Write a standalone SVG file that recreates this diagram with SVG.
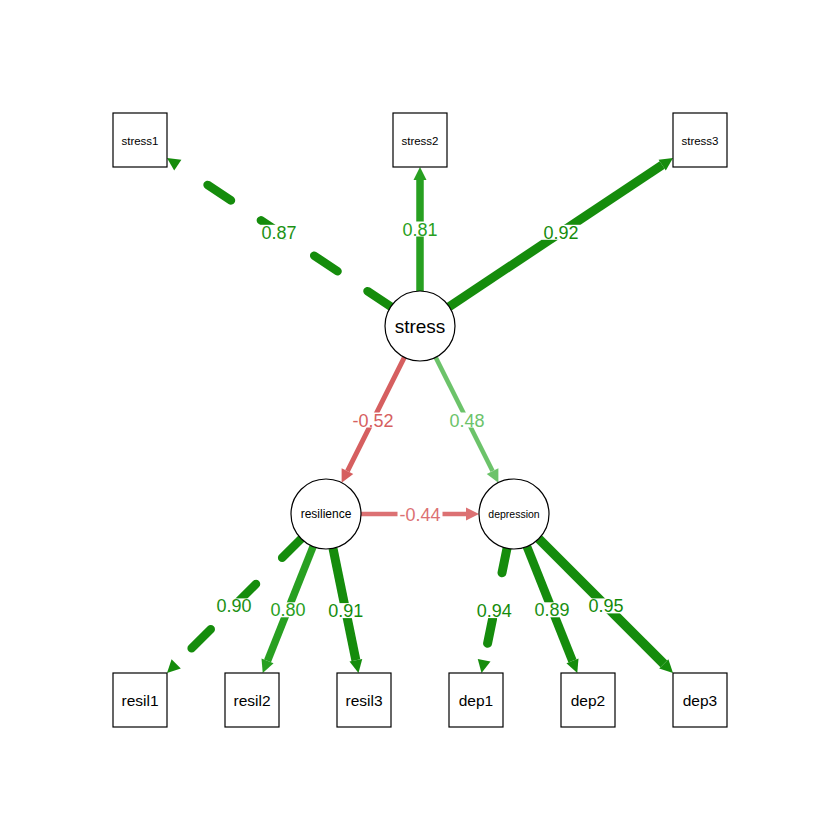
<svg xmlns="http://www.w3.org/2000/svg" width="840" height="840" viewBox="0 0 840 840">
<style>
.edge{fill:none;stroke-linecap:butt}
.dash{stroke-linecap:round}
.dark{stroke:#158c0c}
.mid{stroke:#28a021}
.light{stroke:#6cc36a}
.red{stroke:#d65f60}
.red2{stroke:#dc7173}
.lbl{font-family:"Liberation Sans",Arial,sans-serif;font-size:18px;text-anchor:middle}
.lbg{fill:#ffffff}
.box{fill:#ffffff;stroke:#000000;stroke-width:1.2}
.circ{fill:#ffffff;stroke:#000000;stroke-width:1.2}
.nt{font-family:"Liberation Sans",Arial,sans-serif;text-anchor:middle;fill:#000000}
</style>
<defs>
<marker id="a-dark" markerUnits="userSpaceOnUse" viewBox="0 0 13 13" markerWidth="13" markerHeight="13" refX="0" refY="6.5" orient="auto" overflow="visible"><path d="M0,0 L13,6.5 L0,13 z" fill="#158c0c"/></marker>
<marker id="a-mid" markerUnits="userSpaceOnUse" viewBox="0 0 13 13" markerWidth="13" markerHeight="13" refX="0" refY="6.5" orient="auto" overflow="visible"><path d="M0,0 L13,6.5 L0,13 z" fill="#28a021"/></marker>
<marker id="a-light" markerUnits="userSpaceOnUse" viewBox="0 0 13 13" markerWidth="13" markerHeight="13" refX="0" refY="6.5" orient="auto" overflow="visible"><path d="M0,0 L13,6.5 L0,13 z" fill="#6cc36a"/></marker>
<marker id="a-red" markerUnits="userSpaceOnUse" viewBox="0 0 13 13" markerWidth="13" markerHeight="13" refX="0" refY="6.5" orient="auto" overflow="visible"><path d="M0,0 L13,6.5 L0,13 z" fill="#d65f60"/></marker>
<marker id="a-red2" markerUnits="userSpaceOnUse" viewBox="0 0 13 13" markerWidth="13" markerHeight="13" refX="0" refY="6.5" orient="auto" overflow="visible"><path d="M0,0 L13,6.5 L0,13 z" fill="#dc7173"/></marker>
</defs>
<rect x="0" y="0" width="840" height="840" fill="#ffffff"/>
<g id="connectors">
<path class="edge dash dark" stroke-width="8.5" stroke-dasharray="28 36" d="M390.85,306.63 L177.8,165.1" marker-end="url(#a-dark)"/>
<path class="edge mid" stroke-width="7.5" d="M420,291 L420,180" marker-end="url(#a-mid)"/>
<path class="edge dark" stroke-width="9" d="M449.15,306.63 L662.2,165.1" marker-end="url(#a-dark)"/>
<path class="edge red" stroke-width="5" d="M404.35,357.3 L347.46,471.07" marker-end="url(#a-red)"/>
<path class="edge light" stroke-width="4.6" d="M435.65,357.3 L492.54,471.07" marker-end="url(#a-light)"/>
<path class="edge red2" stroke-width="4.4" d="M361,514 L466,514" marker-end="url(#a-red2)"/>
<path class="edge dash dark" stroke-width="8.5" stroke-dasharray="27 37" d="M301.25,538.75 L176.19,663.81" marker-end="url(#a-dark)"/>
<path class="edge mid" stroke-width="7.5" d="M313.06,546.52 L267.54,660.92" marker-end="url(#a-mid)"/>
<path class="edge dark" stroke-width="9" d="M333,548.29 L355.88,660.26" marker-end="url(#a-dark)"/>
<path class="edge dash dark" stroke-width="9" stroke-dasharray="25 47" d="M507,548.29 L484.12,660.26" marker-end="url(#a-dark)"/>
<path class="edge dark" stroke-width="8.7" d="M526.94,546.52 L572.46,660.92" marker-end="url(#a-dark)"/>
<path class="edge dark" stroke-width="9.5" d="M538.75,538.75 L663.81,663.81" marker-end="url(#a-dark)"/>
<g id="edge-labels">
<rect class="lbg" x="259.4" y="224.8" width="39" height="15"/><text class="lbl" x="278.9" y="238.8" fill="#1c9214">0.87</text>
<rect class="lbg" x="400.5" y="221.5" width="39" height="15"/><text class="lbl" x="420" y="235.5" fill="#28a021">0.81</text>
<rect class="lbg" x="541.6" y="224.8" width="39" height="15"/><text class="lbl" x="561.1" y="238.8" fill="#158c0c">0.92</text>
<rect class="lbg" x="350.5" y="412.5" width="45" height="15"/><text class="lbl" x="373" y="426.5" fill="#d65f60">-0.52</text>
<rect class="lbg" x="447.5" y="412.5" width="39" height="15"/><text class="lbl" x="467" y="426.5" fill="#6cc36a">0.48</text>
<rect class="lbg" x="397.5" y="506.5" width="45" height="15"/><text class="lbl" x="420" y="520.5" fill="#dc7173">-0.44</text>
<rect class="lbg" x="214.6" y="598.4" width="39" height="15"/><text class="lbl" x="234.1" y="612.4" fill="#1a9012">0.90</text>
<rect class="lbg" x="268.4" y="602.3" width="39" height="15"/><text class="lbl" x="287.9" y="616.3" fill="#28a021">0.80</text>
<rect class="lbg" x="326.2" y="603.1" width="39" height="15"/><text class="lbl" x="345.7" y="617.1" fill="#158c0c">0.91</text>
<rect class="lbg" x="474.8" y="603.1" width="39" height="15"/><text class="lbl" x="494.3" y="617.1" fill="#158c0c">0.94</text>
<rect class="lbg" x="532.6" y="602.3" width="39" height="15"/><text class="lbl" x="552.1" y="616.3" fill="#1a9012">0.89</text>
<rect class="lbg" x="586.4" y="598.4" width="39" height="15"/><text class="lbl" x="605.9" y="612.4" fill="#128a09">0.95</text>
</g>
</g>
<g id="node-stress1"><rect class="box" x="113" y="113" width="54" height="54"/><text class="nt" x="140" y="144.5" font-size="11.5">stress1</text></g>
<g id="node-stress2"><rect class="box" x="393" y="113" width="54" height="54"/><text class="nt" x="420" y="144.5" font-size="11.5">stress2</text></g>
<g id="node-stress3"><rect class="box" x="673" y="113" width="54" height="54"/><text class="nt" x="700" y="144.5" font-size="11.5">stress3</text></g>
<g id="node-stress"><circle class="circ" cx="420" cy="326" r="35"/><text class="nt" x="420" y="333" font-size="19">stress</text></g>
<g id="node-resilience"><circle class="circ" cx="326" cy="514" r="35"/><text class="nt" x="326" y="518" font-size="12">resilience</text></g>
<g id="node-depression"><circle class="circ" cx="514" cy="514" r="35"/><text class="nt" x="514" y="518" font-size="10.5">depression</text></g>
<g id="node-resil1"><rect class="box" x="113" y="673" width="54" height="54"/><text class="nt" x="140" y="705.8" font-size="15.5">resil1</text></g>
<g id="node-resil2"><rect class="box" x="225" y="673" width="54" height="54"/><text class="nt" x="252" y="705.8" font-size="15.5">resil2</text></g>
<g id="node-resil3"><rect class="box" x="337" y="673" width="54" height="54"/><text class="nt" x="364" y="705.8" font-size="15.5">resil3</text></g>
<g id="node-dep1"><rect class="box" x="449" y="673" width="54" height="54"/><text class="nt" x="476" y="705.8" font-size="15.5">dep1</text></g>
<g id="node-dep2"><rect class="box" x="561" y="673" width="54" height="54"/><text class="nt" x="588" y="705.8" font-size="15.5">dep2</text></g>
<g id="node-dep3"><rect class="box" x="673" y="673" width="54" height="54"/><text class="nt" x="700" y="705.8" font-size="15.5">dep3</text></g>
</svg>
